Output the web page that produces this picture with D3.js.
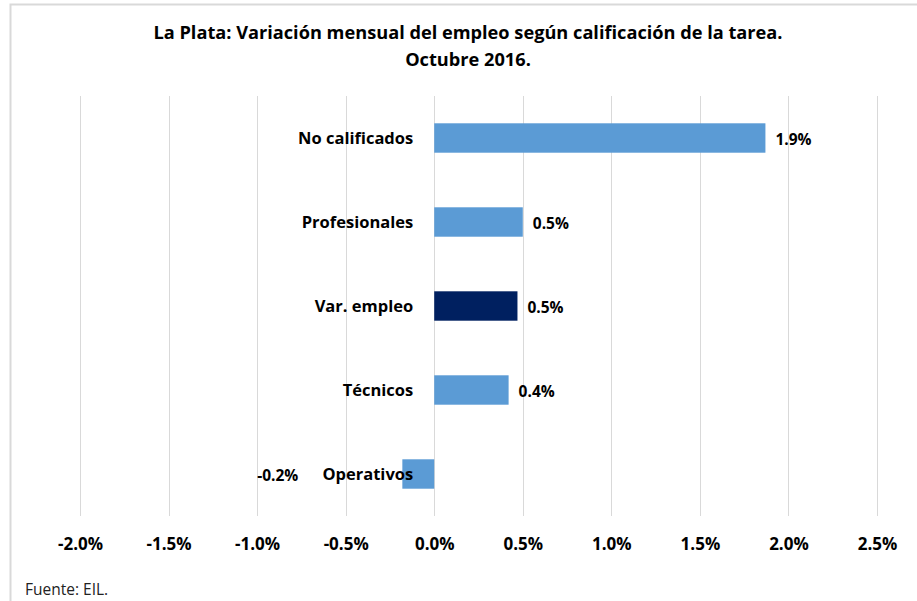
<!DOCTYPE html>
<html>
<head>
<meta charset="utf-8">
<script src="https://cdn.jsdelivr.net/npm/d3@7"></script>
<style>
  body { margin: 0; background: #fff; }
  text { font-family: "Open Sans", Lato, sans-serif; }
</style>
</head>
<body>
<div id="chart"></div>
<script>
// data
var categories = ["No calificados", "Profesionales", "Var. empleo", "Técnicos", "Operativos"];
var values = [0.0187, 0.0050, 0.0047, 0.0042, -0.0018];
var valueLabels = ["1.9%", "0.5%", "0.5%", "0.4%", "-0.2%"];
var tickValues = [-0.02, -0.015, -0.01, -0.005, 0, 0.005, 0.01, 0.015, 0.02, 0.025];
var titleLines = ["La Plata: Variación mensual del empleo según calificación de la tarea.", "Octubre 2016."];
var source = "Fuente: EIL.";

var W = 917, H = 601;
var margin = {top: 96, right: 40, bottom: 85, left: 80};

var svg = d3.select("#chart").append("svg")
  .attr("width", W)
  .attr("height", H);

// outer frame (only top and left edge visible in crop)
svg.append("path")
  .attr("d", "M10.5," + H + "V4.5H" + W)
  .attr("fill", "none")
  .attr("stroke", "#d9d9d9")
  .attr("stroke-width", 2);

var x = d3.scaleLinear()
  .domain([-0.02, 0.025])
  .range([margin.left, W - margin.right]);

var y = d3.scaleBand()
  .domain(categories)
  .range([margin.top, H - margin.bottom])
  .paddingInner(0.65)
  .paddingOuter(0.325);

var fmt = d3.format(".1%");

// gridlines
svg.append("g")
  .selectAll("line")
  .data(tickValues)
  .enter()
  .append("line")
  .attr("x1", function(d){ return Math.round(x(d)) + 0.5; })
  .attr("x2", function(d){ return Math.round(x(d)) + 0.5; })
  .attr("y1", margin.top)
  .attr("y2", H - margin.bottom)
  .attr("stroke", "#d9d9d9")
  .attr("stroke-width", 1);

// bottom tick labels via axis (plain hyphen like the original)
var xAxis = svg.append("g")
  .attr("transform", "translate(0," + (H - margin.bottom) + ")")
  .call(d3.axisBottom(x).tickValues(tickValues)
    .tickFormat(function(d){ return fmt(d).replace("−", "-"); })
    .tickSize(0).tickPadding(22));
xAxis.select(".domain").remove();
xAxis.selectAll("text")
  .attr("font-size", 17)
  .attr("font-weight", "bold")
  .attr("fill", "#000")
  .style("font-family", "'Open Sans', sans-serif");

// bars
svg.append("g")
  .selectAll("rect")
  .data(values)
  .enter()
  .append("rect")
  .attr("x", function(d){ return x(Math.min(0, d)); })
  .attr("width", function(d){ return Math.abs(x(d) - x(0)); })
  .attr("y", function(d, i){ return y(categories[i]); })
  .attr("height", y.bandwidth())
  .attr("fill", function(d, i){ return categories[i] == "Var. empleo" ? "#002060" : "#5b9bd5"; });

// category labels next to the zero line
svg.append("g")
  .selectAll("text")
  .data(categories)
  .enter()
  .append("text")
  .attr("x", x(0) - 21)
  .attr("y", function(d){ return y(d) + y.bandwidth() / 2; })
  .attr("dy", "0.35em")
  .attr("text-anchor", "end")
  .attr("font-size", 16.5)
  .attr("font-weight", "bold")
  .attr("fill", "#000")
  .text(function(d){ return d; });

// value labels
svg.append("g")
  .selectAll("text")
  .data(values)
  .enter()
  .append("text")
  .attr("x", function(d){ return d >= 0 ? x(d) + 10 : x(d) - 104; })
  .attr("y", function(d, i){ return y(categories[i]) + y.bandwidth() / 2 + 2; })
  .attr("dy", "0.35em")
  .attr("text-anchor", function(d){ return d >= 0 ? "start" : "end"; })
  .attr("font-size", 15.5)
  .attr("font-weight", "bold")
  .attr("fill", "#000")
  .text(function(d, i){ return valueLabels[i]; });

// title
svg.append("g")
  .selectAll("text")
  .data(titleLines)
  .enter()
  .append("text")
  .attr("x", 468)
  .attr("y", function(d, i){ return 39 + i * 27; })
  .attr("text-anchor", "middle")
  .attr("font-size", 18.2)
  .attr("font-weight", "bold")
  .attr("fill", "#000")
  .text(function(d){ return d; });

// source note
svg.append("text")
  .attr("x", 25)
  .attr("y", 595)
  .attr("font-size", 15.5)
  .attr("fill", "#222")
  .text(source);
</script>
</body>
</html>
